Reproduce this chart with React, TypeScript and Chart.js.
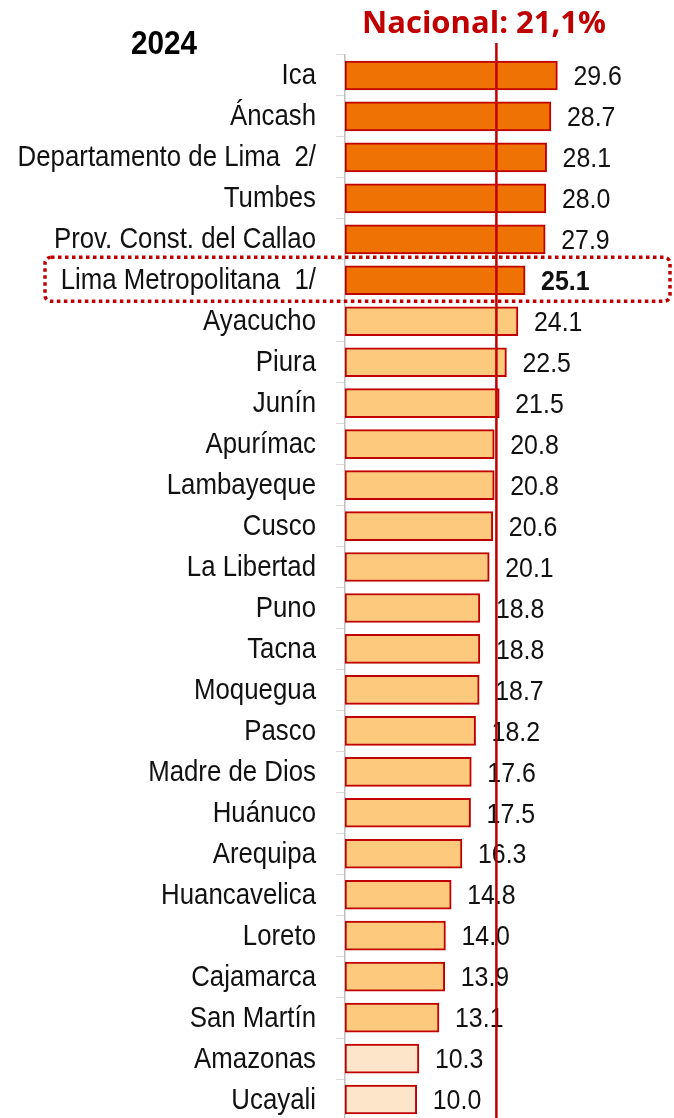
import React, { useEffect, useRef } from "react";
import { Chart, registerables } from "chart.js";

Chart.register(...registerables);

const categories = [
  "Ica",
  "Áncash",
  "Departamento de Lima  2/",
  "Tumbes",
  "Prov. Const. del Callao",
  "Lima Metropolitana  1/",
  "Ayacucho",
  "Piura",
  "Junín",
  "Apurímac",
  "Lambayeque",
  "Cusco",
  "La Libertad",
  "Puno",
  "Tacna",
  "Moquegua",
  "Pasco",
  "Madre de Dios",
  "Huánuco",
  "Arequipa",
  "Huancavelica",
  "Loreto",
  "Cajamarca",
  "San Martín",
  "Amazonas",
  "Ucayali",
];

const values = [
  29.6, 28.7, 28.1, 28.0, 27.9, 25.1, 24.1, 22.5, 21.5, 20.8, 20.8, 20.6, 20.1,
  18.8, 18.8, 18.7, 18.2, 17.6, 17.5, 16.3, 14.8, 14.0, 13.9, 13.1, 10.3, 10.0,
];

// group: 0 = high (dark orange), 1 = mid (light orange), 2 = low (pale)
const groups = [
  0, 0, 0, 0, 0, 0, 1, 1, 1, 1, 1, 1, 1, 1, 1, 1, 1, 1, 1, 1, 1, 1, 1, 1, 2, 2,
];

const nationalValue = 21.1;
const nationalLabel = "Nacional: 21,1%";
const yearLabel = "2024";
const highlightIndex = 5;

const groupColors = ["#EF7204", "#FDC97D", "#FDE5C9"];
const RED = "#C00000";
const SANS = '"Liberation Sans", Arial, sans-serif';
const SX = 0.89;

function drawText(
  ctx: CanvasRenderingContext2D,
  text: string,
  x: number,
  y: number,
  font: string,
  align: CanvasTextAlign,
  color: string,
  sx: number
) {
  ctx.save();
  ctx.font = font;
  ctx.fillStyle = color;
  ctx.textAlign = align;
  ctx.textBaseline = "middle";
  ctx.translate(x, y);
  ctx.scale(sx, 1);
  ctx.fillText(text, 0, 0);
  ctx.restore();
}

export default function App() {
  const ref = useRef<HTMLCanvasElement | null>(null);

  useEffect(() => {
    if (!ref.current) return;

    const overlay = {
      id: "overlay",
      afterDatasetsDraw(chart: any) {
        const ctx = chart.ctx;
        const xs = chart.scales.x;
        const ys = chart.scales.y;
        const meta = chart.getDatasetMeta(0);
        const labelRight = ys.right - 29;

        // category labels
        categories.forEach((c, i) => {
          const y = ys.getPixelForValue(i);
          drawText(ctx, c, labelRight, y + 1, "29px " + SANS, "right", "#111", SX);
        });

        // value labels
        meta.data.forEach((bar: any, i: number) => {
          const font = (i === highlightIndex ? "bold " : "") + "28px " + SANS;
          drawText(ctx, values[i].toFixed(1), bar.x + 16, bar.y + 2, font, "left", "#111", SX);
        });

        // national line
        const nx = xs.getPixelForValue(nationalValue);
        ctx.save();
        ctx.strokeStyle = RED;
        ctx.lineWidth = 2.5;
        ctx.beginPath();
        ctx.moveTo(nx, 43);
        ctx.lineTo(nx, chart.height);
        ctx.stroke();
        ctx.restore();

        // national label (fit to width)
        const nFont = 'bold 30px "Open Sans", "Noto Sans", sans-serif';
        ctx.save();
        ctx.font = nFont;
        const w = ctx.measureText(nationalLabel).width;
        ctx.restore();
        drawText(ctx, nationalLabel, 484, 24, nFont, "center", RED, 244 / w);

        // year label
        drawText(ctx, yearLabel, 164, 45, "bold 33px " + SANS, "center", "#000", 0.9);

        // highlight box
        const cy = ys.getPixelForValue(highlightIndex);
        const x0 = 45, x1 = 670, y0 = cy - 23, y1 = cy + 21, r = 6;
        ctx.save();
        ctx.strokeStyle = RED;
        ctx.lineWidth = 3.5;
        ctx.setLineDash([3.5, 3.5]);
        ctx.beginPath();
        ctx.moveTo(x0 + r, y0);
        ctx.lineTo(x1 - r, y0);
        ctx.arcTo(x1, y0, x1, y0 + r, r);
        ctx.lineTo(x1, y1 - r);
        ctx.arcTo(x1, y1, x1 - r, y1, r);
        ctx.lineTo(x0 + r, y1);
        ctx.arcTo(x0, y1, x0, y1 - r, r);
        ctx.lineTo(x0, y0 + r);
        ctx.arcTo(x0, y0, x0 + r, y0, r);
        ctx.closePath();
        ctx.stroke();
        ctx.restore();
      },
    };

    const chart = new Chart(ref.current, {
      type: "bar",
      data: {
        labels: categories,
        datasets: [
          {
            data: values,
            backgroundColor: groups.map((g) => groupColors[g]),
            borderColor: RED,
            borderWidth: 2,
            barThickness: 29,
            borderSkipped: false,
          },
        ],
      },
      options: {
        indexAxis: "y",
        animation: false,
        responsive: false,
        maintainAspectRatio: false,
        layout: { padding: { top: 55, bottom: 2, right: 42, left: 0 } },
        plugins: {
          legend: { display: false },
          tooltip: { enabled: false },
        },
        scales: {
          x: {
            display: false,
            min: 0,
            max: 40,
          },
          y: {
            afterFit: (scale: any) => {
              scale.width = 345;
              scale.paddingTop = 0;
              scale.paddingBottom = 0;
            },
            grid: {
              drawOnChartArea: false,
              drawTicks: true,
              tickLength: 9,
              color: "#D9D9D9",
              offset: true,
            },
            border: { display: true, color: "#BFBFBF", width: 1.5 },
            ticks: { display: false },
          },
        },
      },
      plugins: [overlay],
    });

    return () => chart.destroy();
  }, []);

  return (
    <div
      style={{
        position: "fixed",
        left: 0,
        top: 0,
        width: 674,
        height: 1118,
        overflow: "hidden",
        background: "#fff",
      }}
    >
      <canvas ref={ref} width={674} height={1122} style={{ display: "block" }} />
    </div>
  );
}
